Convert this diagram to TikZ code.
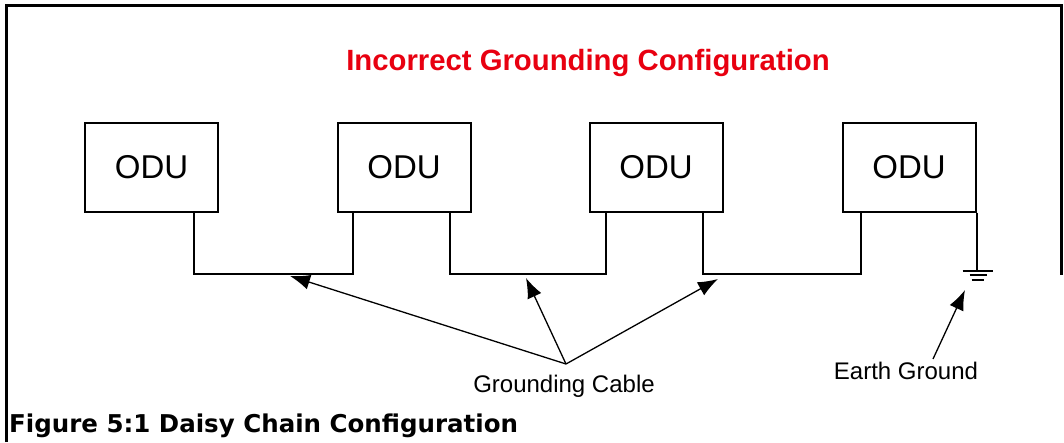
\documentclass[tikz,border=0pt]{standalone}
\usepackage{fontspec}
\setmainfont{Liberation Sans}
\newfontfamily\capfont{DejaVu Sans}
\usetikzlibrary{arrows.meta}
\definecolor{titlered}{RGB}{232,0,16}

\tikzset{
  odubox/.style={draw, line width=2pt, minimum width=133pt, minimum height=89pt,
    inner sep=0pt, font=\fontsize{33}{36}\selectfont},
  cable/.style={line width=2pt},
  pointer/.style={line width=1.3pt, -{Latex[length=20pt,width=15pt]}},
  label/.style={font=\fontsize{24}{26}\selectfont, inner sep=0pt}
}

\begin{document}
\begin{tikzpicture}[x=1pt, y=-1pt]
\useasboundingbox (0,0) rectangle (1064,442);

% Frame round the figure
\draw[line width=3pt] (6,442) -- (6,5) -- (1061,5) -- (1061,275);

% Title
\node[font=\fontsize{29.3}{32}\selectfont\bfseries, text=titlered] (title) at (588,63) {Incorrect Grounding Configuration};

% The four outdoor units
\node[odubox] (odu1) at (151.5,167) {ODU};
\node[odubox] (odu2) at (404,167) {ODU};
\node[odubox] (odu3) at (656,167) {ODU};
\node[odubox] (odu4) at (909,167) {ODU};

% Grounding cables from unit to unit
\draw[cable] ([xshift=110]odu1.south west) -- ++(0,61) -| ([xshift=16]odu2.south west);
\draw[cable] ([xshift=113]odu2.south west) -- ++(0,61) -| ([xshift=17]odu3.south west);
\draw[cable] ([xshift=114]odu3.south west) -- ++(0,61) -| ([xshift=19]odu4.south west);

% Earth ground on the last unit
\draw[cable] (odu4.south east) -- ++(0,58) coordinate (gnd);
\draw[line width=2pt] ([xshift=-14]gnd) -- ([xshift=16]gnd);
\draw[line width=2pt] ([xshift=-7,yshift=-4.5]gnd) -- ([xshift=10,yshift=-4.5]gnd);
\draw[line width=2pt] ([xshift=-5,yshift=-9]gnd) -- ([xshift=7,yshift=-9]gnd);

% Labels and pointers
\node[label] (cablelbl) at (564,386) {Grounding Cable};
\coordinate (apex) at (566,364);
\coordinate (tip1) at (290,276);
\coordinate (tip2) at (526,278);
\coordinate (tip3) at (718,279);
\draw[pointer] (apex) -- (tip1);
\draw[pointer] (apex) -- (tip2);
\draw[pointer] (apex) -- (tip3);

\node[label] (earthlbl) at (906,371) {Earth Ground};
\coordinate (gtip) at (965,290);
\draw[pointer] ([xshift=27,yshift=3]earthlbl.north) -- (gtip);

% Caption
\node[font=\fontsize{24.5}{26}\capfont\bfseries, anchor=base west, inner sep=0pt] (caption) at (9,432) {Figure 5:1 Daisy Chain Configuration};
\end{tikzpicture}
\end{document}
